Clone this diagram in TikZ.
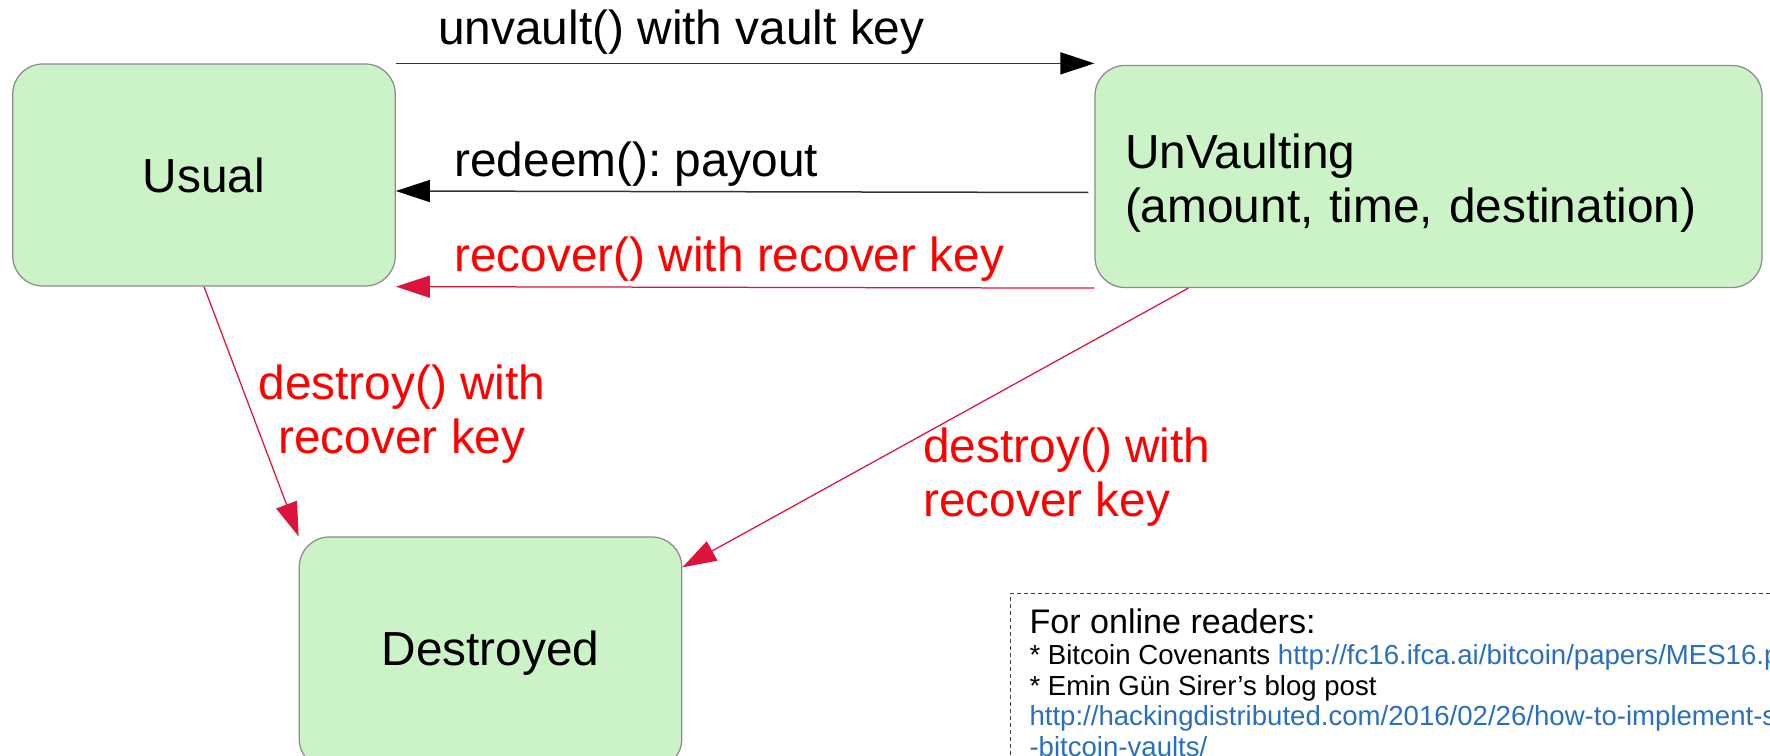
\documentclass[tikz,border=0pt]{standalone}
\usepackage{fontspec}
\setmainfont{Liberation Sans}
\usetikzlibrary{arrows.meta}
\frenchspacing
\definecolor{statefill}{RGB}{204,243,200}
\definecolor{stateline}{RGB}{140,140,140}
\definecolor{recoverline}{RGB}{220,20,60}
\definecolor{linkblue}{RGB}{42,110,190}
\newcommand{\labelfont}{\fontsize{27.2}{30.5}\selectfont}
\newcommand{\headfont}{\fontsize{19.4}{22}\selectfont}
\newcommand{\notefont}{\fontsize{15.7}{17.6}\selectfont}
\tikzset{
    every node/.style={align=center,},
    state/.style={draw=stateline,fill=statefill,rounded corners=0.6cm,line width=0.025cm,
        minimum width=7.65cm,minimum height=4.44cm,font=\labelfont,},
    call/.style={font=\labelfont,inner sep=0,},
    redcall/.style={call,text=red,},
    move/.style={draw=black!80,line width=0.03cm,-{Triangle[length=0.68cm,width=0.44cm,color=black]},},
    redmove/.style={draw=recoverline,line width=0.025cm,-{Triangle[length=0.68cm,width=0.44cm,color=recoverline]},},
    note/.style={draw=black!75,line width=0.02cm,dash pattern=on 0.08cm off 0.06cm,align=left,
        inner xsep=0.38cm,inner ysep=0.3cm,font=\notefont,},
}

\begin{document}
\begin{tikzpicture}
    \useasboundingbox (0,0) rectangle (35.4,15.1);
    \clip (0,0) rectangle (35.4,15.1);

    \node[state] (usual) at (4.08, 11.6) {Usual};
    \node[state, minimum width=13.34cm, text width=12.14cm, inner xsep=0.6cm, align=left] (unvault) at (28.57, 11.57)
        {\rule{0pt}{0.97cm}UnVaulting\\(amount, time, destination)};
    \node[state, minimum height=4.64cm] (destroyed) at (9.81, 2.04) {Destroyed};

    \node[call, anchor=base west] (unvaultcall) at (8.76, 14.2) {unvault() with vault key};
    \node[call, anchor=base west] (redeemcall) at (9.08, 11.56) {redeem(): payout};
    \node[redcall, anchor=base west] (recovercall) at (9.08, 9.66) {recover() with recover key};
    \node[redcall] (destroyusual) at (8.04, 6.82) {destroy() with\\recover key};
    \node[redcall, anchor=west, align=left] (destroyunvault) at (18.46, 5.56) {destroy() with\\recover key};

    \draw[move] (usual.north east) to (usual.north east -| unvault.west);
    \draw[move] ([shift={(-0.12,-0.32)}]unvault.west) to ([yshift=-0.32cm]usual.east);
    \draw[redmove] (unvault.south west) to (usual.south east);
    \draw[redmove] (usual.south) to (destroyed.north west);
    \draw[redmove] ([xshift=1.88cm]unvault.south west) to ([yshift=-0.62cm]destroyed.north east);

    \node[note, anchor=north west] (readers) at (20.2, 3.24)
        {{\headfont For online readers:}\\
        * Bitcoin Covenants \textcolor{linkblue}{http://fc16.ifca.ai/bitcoin/papers/MES16.pdf}\\
        * Emin Gün Sirer’s blog post\\
        \textcolor{linkblue}{http://hackingdistributed.com/2016/02/26/how-to-implement-secure}\\
        \textcolor{linkblue}{-bitcoin-vaults/}};
\end{tikzpicture}
\end{document}
